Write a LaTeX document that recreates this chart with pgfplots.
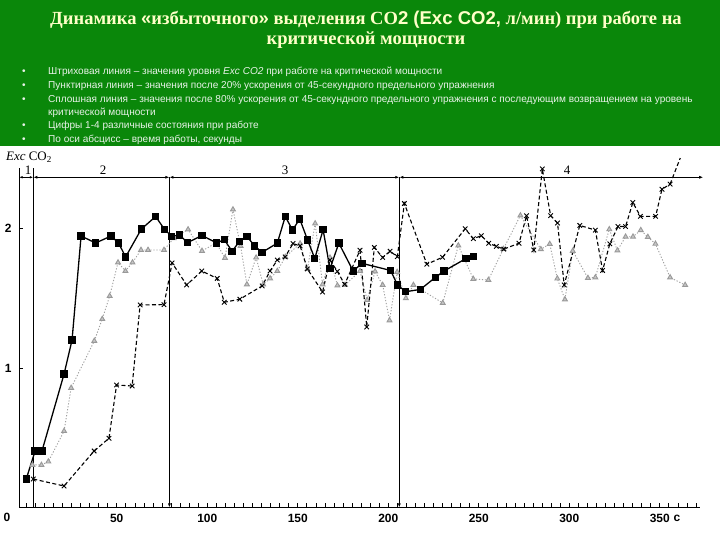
\documentclass[border=0pt]{standalone}
\usepackage{pgfplots}
\pgfplotsset{compat=1.18}
\usepackage{fontspec}
\setmainfont{Liberation Serif}
\setsansfont{Liberation Sans}
\usetikzlibrary{arrows.meta}
\definecolor{slidegreen}{RGB}{10,135,10}
\definecolor{titleyellow}{RGB}{255,255,200}
\definecolor{bullettext}{RGB}{232,242,232}
\begin{document}
\begin{tikzpicture}[x=1bp,y=1bp]
\path[use as bounding box] (0,0) rectangle (720,540);
\fill[slidegreen] (0,0) rectangle (720,540);
\fill[white] (0,0) rectangle (720,394);
% title
\node[text=titleyellow, align=center, font=\bfseries\fontsize{18.6}{20}\selectfont] at (366,510)
 {Динамика {\sffamily«}избыточного{\sffamily»} выделения СО{\sffamily 2 (Exc CO2,} л/мин) при работе на\\критической мощности};
% bullets
\begin{scope}[every node/.style={anchor=west, inner sep=0pt, text=bullettext, font=\sffamily\fontsize{10.1}{11}\selectfont}]
\node at (22,468) {•}; \node at (48,468) {Штриховая линия – значения уровня \textit{Exc CO2} при работе на критической мощности};
\node at (22,454) {•}; \node at (48,454) {Пунктирная линия – значения после 20\% ускорения от 45-секундного предельного упражнения};
\node at (22,440) {•}; \node at (48,440) {Сплошная линия – значения после 80\% ускорения от 45-секундного предельного упражнения с последующим возвращением на уровень};
\node at (48,427) {критической мощности};
\node at (22,414) {•}; \node at (48,414) {Цифры 1-4 различные состояния при работе};
\node at (22,400) {•}; \node at (48,400) {По оси абсцисс – время работы, секунды};
\end{scope}
% chart labels outside axis
\node[anchor=west, inner sep=0pt, font=\fontsize{13}{13}\selectfont] at (6,383) {\textit{Exc} CO\textsubscript{2}};
\node[inner sep=0pt, font=\sffamily\bfseries\fontsize{12}{12}\selectfont] at (7,23) {0};
\node[inner sep=0pt, font=\sffamily\bfseries\fontsize{12}{12}\selectfont] at (677,22) {c};
\begin{axis}[
  at={(19bp,32.5bp)}, anchor=south west,
  scale only axis, width=680.6bp, height=339bp,
  xmin=-4, xmax=372, ymin=0, ymax=2.43,
  axis lines*=left,
  axis line style={black, line width=1bp},
  clip=false,
  xtick={50,100,...,350}, minor xtick={0,5,...,370},
  ytick={1,2},
  tick align=inside,
  major tick length=4bp, minor tick length=4bp,
  every tick/.style={black, line width=0.7bp},
  /pgf/number format/assume math mode=true,
  xticklabel style={font=\sffamily\bfseries\fontsize{12}{12}\selectfont, yshift=-3bp},
  yticklabel style={font=\sffamily\bfseries\fontsize{12}{12}\selectfont, xshift=-4bp},
]
% zone annotations
\draw[line width=0.8bp, {Latex[length=3.5bp,width=2.5bp]}-{Latex[length=3.5bp,width=2.5bp]}] (axis cs:-4,2.367) -- (axis cs:3.9,2.367);
\draw[line width=0.8bp, {Latex[length=4bp,width=3bp]}-{Latex[length=4bp,width=3bp]}] (axis cs:3.9,2.367) -- (axis cs:79.1,2.367);
\draw[line width=0.8bp, {Latex[length=4bp,width=3bp]}-{Latex[length=4bp,width=3bp]}] (axis cs:79.1,2.367) -- (axis cs:206.1,2.367);
\draw[line width=0.8bp, {Latex[length=4bp,width=3bp]}-{Latex[length=4bp,width=3bp]}] (axis cs:206.1,2.367) -- (axis cs:374,2.367);
\draw[line width=1.1bp] (axis cs:3.9,0) -- (axis cs:3.9,2.43);
\draw[line width=1.1bp, -{Latex[length=4bp,width=3bp]}] (axis cs:79.1,2.367) -- (axis cs:79.1,0);
\draw[line width=1.1bp, -{Latex[length=4bp,width=3bp]}] (axis cs:206.1,2.367) -- (axis cs:206.1,0);
\node[font=\fontsize{13}{13}\selectfont, inner sep=0pt] at (axis cs:1.0,2.419) {1};
\node[font=\fontsize{13}{13}\selectfont, inner sep=0pt] at (axis cs:42.4,2.419) {2};
\node[font=\fontsize{13}{13}\selectfont, inner sep=0pt] at (axis cs:143,2.419) {3};
\node[font=\fontsize{13}{13}\selectfont, inner sep=0pt] at (axis cs:298.8,2.419) {4};
% dotted series (after 20% acceleration)
\addplot[color=gray!75, line width=0.9bp, dash pattern=on 1.2bp off 1.8bp,
  mark=triangle*, mark size=2.8bp, mark options={solid, fill=gray!45, draw=gray!80}] coordinates {
(3.4,0.305)(8.4,0.305)(12.2,0.329)(20.9,0.548)(24.8,0.857)(37.6,1.194)(42.0,1.351)(46.1,1.516)
(50.7,1.756)(54.8,1.695)(58.7,1.756)(63.4,1.846)(67.3,1.846)(76.1,1.846)(81.5,1.930)(89.4,1.993)
(97.1,1.839)(104.9,1.896)(109.8,1.789)(114.2,2.136)(118.4,1.875)(121.9,1.599)(127.0,1.791)
(130.9,1.599)(134.7,1.642)(138.7,1.695)(143.1,1.796)(151.3,1.892)(155.4,1.710)(159.6,2.036)
(163.7,1.599)(167.8,1.791)(171.9,1.591)(176.1,1.595)(184.4,1.695)(188.3,1.487)(192.7,1.692)
(196.9,1.595)(200.7,1.341)(204.9,1.688)(209.7,1.500)(213.9,1.595)(230.1,1.466)(238.7,1.878)
(247.0,1.638)(255.3,1.631)(263.6,1.853)(273.0,2.093)(284.3,1.851)(289.2,1.889)(293.4,1.641)
(297.6,1.491)(301.9,1.839)(310.3,1.645)(314.4,1.649)(322.1,1.994)(326.6,1.842)(331.1,1.941)
(335.2,1.941)(339.5,1.988)(343.4,1.939)(347.6,1.890)(355.7,1.649)(364.0,1.595)
};
% dashed series (critical power)
\addplot[black, line width=1.1bp, dash pattern=on 4bp off 2.5bp,
  mark=x, mark size=3.2bp, mark options={solid, line width=0.9bp}] coordinates {
(3.9,0.204)(20.9,0.154)(37.5,0.405)(45.7,0.496)(49.9,0.878)(58.5,0.871)(62.9,1.452)(76.1,1.454)
(80.6,1.753)(88.6,1.595)(97.0,1.695)(105.5,1.642)(109.4,1.471)(118.0,1.493)(130.3,1.588)
(134.7,1.695)(138.7,1.774)(143.0,1.796)(147.4,1.892)(151.3,1.875)(155.3,1.710)(163.7,1.545)
(167.8,1.774)(171.9,1.692)(175.9,1.600)(184.4,1.844)(188.1,1.294)(192.3,1.864)(196.9,1.792)
(201.0,1.837)(205.0,1.798)(208.9,2.179)(221.3,1.744)(230.0,1.794)(242.5,1.998)(247.0,1.927)
(251.4,1.948)(255.5,1.894)(259.7,1.872)(263.8,1.852)(272.2,1.894)(276.4,2.091)(280.4,1.846)
(285.1,2.427)(289.7,2.092)(293.5,2.039)(297.2,1.595)(305.8,2.022)(314.4,1.988)(318.4,1.699)
(322.4,1.890)(326.9,2.014)(331.1,2.014)(335.1,2.186)(339.3,2.087)(347.7,2.087)(351.2,2.281)
(355.7,2.318)
};
\addplot[black, line width=1.1bp, dash pattern=on 4bp off 2.5bp] coordinates {(355.7,2.318)(361.3,2.505)};
% solid series (after 80% acceleration)
\addplot[black, line width=1.3bp, mark=square*, mark size=3bp, mark options={solid}] coordinates {
(0,0.204)(4.9,0.405)(8.7,0.405)(20.9,0.957)(25.3,1.20)(30.3,1.946)(38.3,1.896)(46.9,1.946)
(51.0,1.896)(54.9,1.796)(63.6,1.996)(71.5,2.086)(76.5,1.991)(80.4,1.944)(84.8,1.953)(89.0,1.898)
(97.1,1.950)(105.2,1.896)(109.4,1.920)(113.7,1.837)(117.7,1.905)(122.0,1.943)(126.1,1.875)
(130.3,1.829)(138.7,1.895)(143.1,2.086)(147.1,1.989)(151.1,2.068)(155.4,1.918)(159.4,1.785)
(164.0,1.991)(167.8,1.712)(172.7,1.895)(180.6,1.695)(185.5,1.750)(201.3,1.699)(205.1,1.595)
(209.7,1.547)(217.7,1.563)(226.0,1.649)(230.8,1.695)(243.0,1.785)(247.1,1.798)
};
\end{axis}
\end{tikzpicture}
\end{document}
